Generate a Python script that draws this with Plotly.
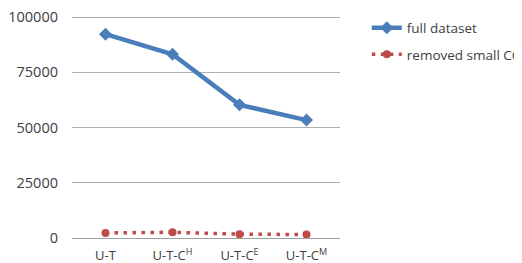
import plotly.graph_objects as go

categories = ["U-T", "U-T-C<sup>H</sup>", "U-T-C<sup>E</sup>", "U-T-C<sup>M</sup>"]
full_dataset = [92300, 83200, 60300, 53400]
removed_small_cc = [2300, 2600, 1700, 1600]
y_ticks = [0, 25000, 50000, 75000, 100000]

font_family = "Open Sans, Liberation Sans, sans-serif"
text_color = "#404040"

fig = go.Figure()
fig.add_trace(go.Scatter(
    x=categories, y=full_dataset, name="full dataset", mode="lines+markers",
    line=dict(color="#4a7ebb", width=4.5),
    marker=dict(symbol="diamond", size=10, color="#4a7ebb"),
    legendgroup="a",
))
fig.add_trace(go.Scatter(
    x=categories, y=removed_small_cc, name="removed small CC", mode="lines+markers",
    line=dict(color="#be4b48", width=3.5, dash="3.5px,5.5px"),
    marker=dict(symbol="circle", size=8, color="#be4b48"),
    legendgroup="b",
))

fig.update_layout(
    width=514, height=255,
    margin=dict(l=64, r=182, t=7, b=25, autoexpand=False),
    paper_bgcolor="white", plot_bgcolor="white",
    font=dict(family=font_family, size=13, color=text_color),
    showlegend=True,
    legend=dict(x=1.1, y=1.011, xanchor="left", yanchor="top",
                font=dict(size=13.5, color=text_color), tracegroupgap=6,
                bgcolor="rgba(0,0,0,0)"),
    xaxis=dict(type="category", range=[-0.5, 3.5], showgrid=False, showline=False,
               zeroline=False, ticks="", automargin=False, ticklabelstandoff=8,
               tickfont=dict(size=13, color=text_color)),
    yaxis=dict(range=[0, 101000], tickvals=y_ticks, ticktext=[str(v) for v in y_ticks],
               showgrid=True, gridcolor="#b0b0b0", gridwidth=1,
               zeroline=True, zerolinecolor="#a0a0a0", zerolinewidth=1,
               showline=False, ticks="", ticklabelstandoff=13, automargin=False,
               ticklabeloverflow="allow",
               tickfont=dict(size=14.5, color=text_color)),
)

fig.write_html("out.html")
